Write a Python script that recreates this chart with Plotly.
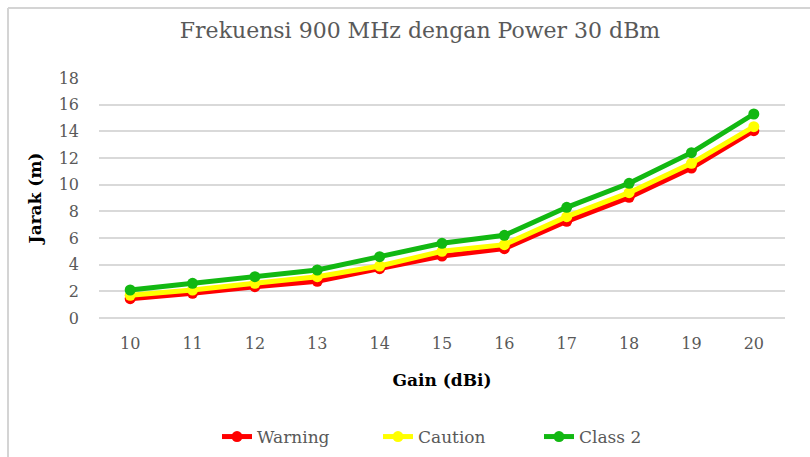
import plotly.graph_objects as go

gain = ["10", "11", "12", "13", "14", "15", "16", "17", "18", "19", "20"]
warning = [1.45, 1.85, 2.35, 2.75, 3.7, 4.65, 5.2, 7.25, 9.05, 11.25, 14.05]
caution = [1.7, 2.1, 2.6, 3.1, 3.9, 5.0, 5.5, 7.6, 9.4, 11.6, 14.35]
class2 = [2.1, 2.6, 3.1, 3.6, 4.6, 5.6, 6.2, 8.3, 10.1, 12.4, 15.3]
y_ticks = [0, 2, 4, 6, 8, 10, 12, 14, 16, 18]

series = [("Warning", warning, "#ff0000"),
          ("Caution", caution, "#ffff00"),
          ("Class 2", class2, "#12b812")]

W, H = 810, 457
L, R, T, B = 99, 785, 78, 318

fig = go.Figure()
for name, vals, col in series:
    fig.add_trace(go.Scatter(
        x=gain, y=vals, name=name, mode="lines+markers",
        line=dict(color=col, width=5),
        marker=dict(color=col, size=11),
    ))

serif = "DejaVu Serif"
fig.update_layout(
    width=W, height=H,
    margin=dict(l=L, r=W - R, t=T, b=H - B, autoexpand=False),
    paper_bgcolor="white", plot_bgcolor="white",
    title=dict(text="Frekuensi 900 MHz dengan Power 30 dBm",
               x=420 / W, xanchor="center", xref="container",
               y=1 - 30 / H, yanchor="middle", yref="container",
               font=dict(family=serif, size=22, color="#595959")),
    xaxis=dict(type="category", range=[-0.5, 10.5], showgrid=False,
               showline=False, ticks="", automargin=False,
               ticklabelstandoff=14,
               tickfont=dict(family=serif, size=16, color="#595959"),
               title=dict(text="<b>Gain (dBi)</b>", standoff=22,
                          font=dict(family=serif, size=17, color="black"))),
    yaxis=dict(range=[0, 18], tickvals=y_ticks, showgrid=True,
               gridcolor="#d9d9d9", gridwidth=1.5, zeroline=True,
               zerolinecolor="#d9d9d9", zerolinewidth=1.5,
               showline=False, ticks="", ticklabelstandoff=19,
               automargin=False,
               tickfont=dict(family=serif, size=16, color="#595959"),
               title=dict(text="<b>Jarak (m)</b>", standoff=12,
                          font=dict(family=serif, size=17, color="black"))),
    legend=dict(orientation="h", x=(222 - 5 - L) / (R - L), xanchor="left",
                y=(B - 437) / (B - T), yanchor="middle",
                font=dict(family=serif, size=17, color="#595959"),
                entrywidth=116, entrywidthmode="pixels"),
    showlegend=True,
)

px_x = lambda p: (p - L) / (R - L)
px_y = lambda p: (B - p) / (B - T)
border = dict(color="#d4d4d4", width=2)
fig.add_shape(type="line", xref="paper", yref="paper",
              x0=px_x(8), x1=px_x(815), y0=px_y(8), y1=px_y(8), line=border)
fig.add_shape(type="line", xref="paper", yref="paper",
              x0=px_x(8), x1=px_x(8), y0=px_y(8), y1=px_y(465), line=border)

fig.write_html("out.html", config={"displayModeBar": False},
               post_script="document.body.style.margin='0px';")
